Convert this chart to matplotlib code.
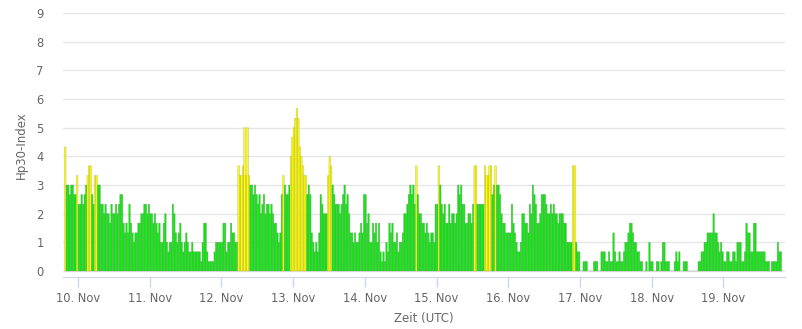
import matplotlib
matplotlib.use('Agg')
import matplotlib.pyplot as plt
import numpy as np

# Hp30 index, 30-minute values; the series starts 9 Nov 19:30 UTC
nov09 = [4.33, 3, 3, 2.67, 3, 3, 2.67, 2.67, 3.33]
nov10 = [2.33, 2.33, 2.67, 2.33, 2.67, 3.0, 3.33, 3.67, 3.67, 2.67, 2.33, 3.33,
         3.33, 3.0, 3.0, 2.33, 2.33, 2.0, 2.33, 2.0, 2.0, 1.67, 2.33, 2.0,
         2.0, 2.33, 2.0, 2.33, 2.67, 2.67, 1.67, 1.33, 1.67, 1.33, 2.33, 1.67,
         1.33, 1.0, 1.33, 1.33, 1.67, 1.67, 2.0, 2.0, 2.33, 2.33, 2.0, 2.33]
nov11 = [2.0, 2.0, 1.67, 2.0, 1.67, 1.33, 1.67, 1.0, 1.0, 1.67, 2.0, 1.0,
         0.67, 1.0, 1.0, 2.33, 2.0, 1.33, 1.0, 1.33, 1.67, 1.0, 0.67, 1.0,
         1.33, 1.0, 0.67, 0.67, 1.0, 0.67, 0.67, 0.67, 0.67, 0.67, 0.33, 1.0,
         1.67, 1.67, 0.67, 0.33, 0.33, 0.33, 0.33, 0.67, 1.0, 1.0, 1.0, 1.0]
nov12 = [1.0, 1.67, 1.67, 0.67, 1.0, 1.0, 1.67, 1.33, 1.33, 1.0, 1.0, 3.67,
         3.33, 3.33, 3.67, 5.0, 3.33, 5.0, 3.33, 3.0, 3.0, 2.67, 3.0, 2.67,
         2.33, 2.67, 2.0, 2.33, 2.67, 2.0, 2.33, 2.33, 2.0, 2.33, 2.0, 1.67,
         1.67, 1.33, 1.0, 1.33, 2.67, 3.33, 3.0, 2.67, 2.67, 3.0, 4.0, 4.67]
nov13 = [5.0, 5.33, 5.67, 5.33, 4.33, 4.0, 3.67, 3.33, 3.33, 2.67, 3.0, 2.67,
         1.33, 1.0, 0.67, 1.0, 0.67, 1.33, 2.67, 2.33, 2.0, 2.0, 2.0, 3.33,
         4.0, 3.67, 3.0, 2.67, 2.33, 2.33, 2.33, 2.0, 2.33, 2.67, 3.0, 2.33,
         2.67, 2.0, 1.33, 1.33, 1.0, 1.33, 1.0, 1.0, 1.33, 1.67, 1.33, 2.67]
nov14 = [2.67, 1.67, 2.0, 1.0, 1.0, 1.67, 1.33, 1.67, 1.0, 1.67, 0.67, 0.33,
         0.67, 0.33, 1.0, 0.67, 1.67, 1.33, 1.67, 1.0, 1.0, 1.33, 0.67, 1.0,
         1.0, 1.33, 2.0, 2.0, 2.33, 2.67, 3.0, 2.67, 3.0, 2.33, 3.67, 2.67,
         2.0, 2.0, 1.67, 1.67, 1.33, 1.67, 1.33, 1.0, 1.33, 1.33, 1.0, 2.33]
nov15 = [2.33, 3.67, 3.0, 2.33, 2.0, 2.33, 1.67, 1.67, 2.33, 1.67, 2.0, 2.0,
         1.67, 2.0, 3.0, 2.67, 3.0, 2.33, 2.33, 1.67, 1.67, 2.0, 2.0, 1.67,
         2.33, 3.67, 3.67, 2.33, 2.33, 2.33, 2.33, 2.33, 3.67, 3.33, 3.33, 3.67,
         3.67, 2.67, 3.0, 3.67, 3.0, 3.0, 2.67, 2.0, 1.67, 1.67, 1.33, 1.33]
nov16 = [1.33, 1.33, 2.33, 1.67, 1.33, 1.0, 0.67, 0.67, 1.0, 2.0, 2.0, 1.67,
         1.67, 1.33, 2.33, 2.0, 3.0, 2.67, 2.33, 1.67, 1.67, 2.0, 2.67, 2.67,
         2.67, 2.33, 2.0, 2.0, 2.33, 2.0, 2.33, 2.0, 2.0, 1.67, 2.0, 2.0,
         2.0, 1.67, 1.67, 1.0, 1.0, 1.0, 1.0, 3.67, 3.67, 1.0, 0.67, 0.67]
nov17 = [0, 0, 0.33, 0.33, 0.33, 0, 0, 0, 0, 0.33, 0.33, 0.33,
         0, 0, 0.67, 0.67, 0.67, 0.33, 0.33, 0.67, 0.33, 0.33, 1.33, 0.67,
         0.33, 0.33, 0.67, 0.33, 0.33, 0.67, 1.0, 1.0, 1.33, 1.67, 1.67, 1.33,
         1.0, 1.0, 0.67, 0.67, 0.33, 0.33, 0, 0, 0.33, 0, 1.0, 0.33]
nov18 = [0.33, 0, 0, 0.33, 0.33, 0, 0.33, 1.0, 1.0, 0.33, 0.33, 0.33,
         0, 0, 0, 0.33, 0.67, 0.33, 0.67, 0, 0, 0.33, 0.33, 0.33,
         0, 0, 0, 0, 0, 0, 0, 0.33, 0.33, 0.67, 0.67, 1.0,
         1.0, 1.33, 1.33, 1.33, 1.33, 2.0, 1.33, 1.33, 1.0, 0.67, 1.0, 0.67]
nov19 = [0.33, 0.33, 0.67, 0.67, 0.33, 0.33, 0.67, 0.67, 0.33, 1.0, 1.0, 1.0,
         0.33, 0.33, 0.67, 1.67, 1.33, 1.33, 0.67, 0.67, 1.67, 1.67, 0.67, 0.67,
         0.67, 0.67, 0.67, 0.67, 0.33, 0.33, 0.33, 0, 0.33, 0.33, 0.33, 0.33,
         1.0, 0.67, 0.67]

day_labels = ['10. Nov', '11. Nov', '12. Nov', '13. Nov', '14. Nov',
              '15. Nov', '16. Nov', '17. Nov', '18. Nov', '19. Nov']

hp30 = np.array(nov09 + nov10 + nov11 + nov12 + nov13 + nov14 + nov15
                + nov16 + nov17 + nov18 + nov19)
# hours relative to 10 Nov 00:00 UTC
hours = -4.5 + 0.5 * np.arange(len(hp30))

storm = hp30 > 3.1
colors = np.where(storm, '#ffff00', '#00f000')
edges = np.where(storm, '#a8a840', '#6e9a6e')

fig = plt.figure(figsize=(8.03, 3.29), dpi=100)
ax = fig.add_axes([0.0785, 0.158, 0.899, 0.8025])

bars = ax.bar(hours, hp30, width=0.5, align='edge', color=colors,
              edgecolor=edges, linewidth=0.25, zorder=3)
for b in bars:
    b.set_snap(False)

ax.set_xlim(-5.0, 236.6)
ax.set_ylim(-0.21, 9)
ax.set_yticks(range(10))
ax.grid(axis='y', color='#e6e6e6', linewidth=1, zorder=0)
ax.set_xticks(24 * np.arange(len(day_labels)))
ax.set_xticklabels(day_labels)

for side in ['top', 'right', 'left']:
    ax.spines[side].set_visible(False)
ax.spines['bottom'].set_color('#ccd6eb')
ax.tick_params(axis='x', colors='#ccd6eb', length=7, width=1,
               labelcolor='#666666', labelsize=8.3, pad=4)
ax.tick_params(axis='y', length=0, labelcolor='#666666', labelsize=8.3, pad=14)

ax.set_xlabel('Zeit (UTC)', color='#666666', fontsize=8.5, labelpad=5)
ax.set_ylabel('Hp30-Index', color='#666666', fontsize=8.5, labelpad=6)

fig.savefig('out.png', dpi=100)
